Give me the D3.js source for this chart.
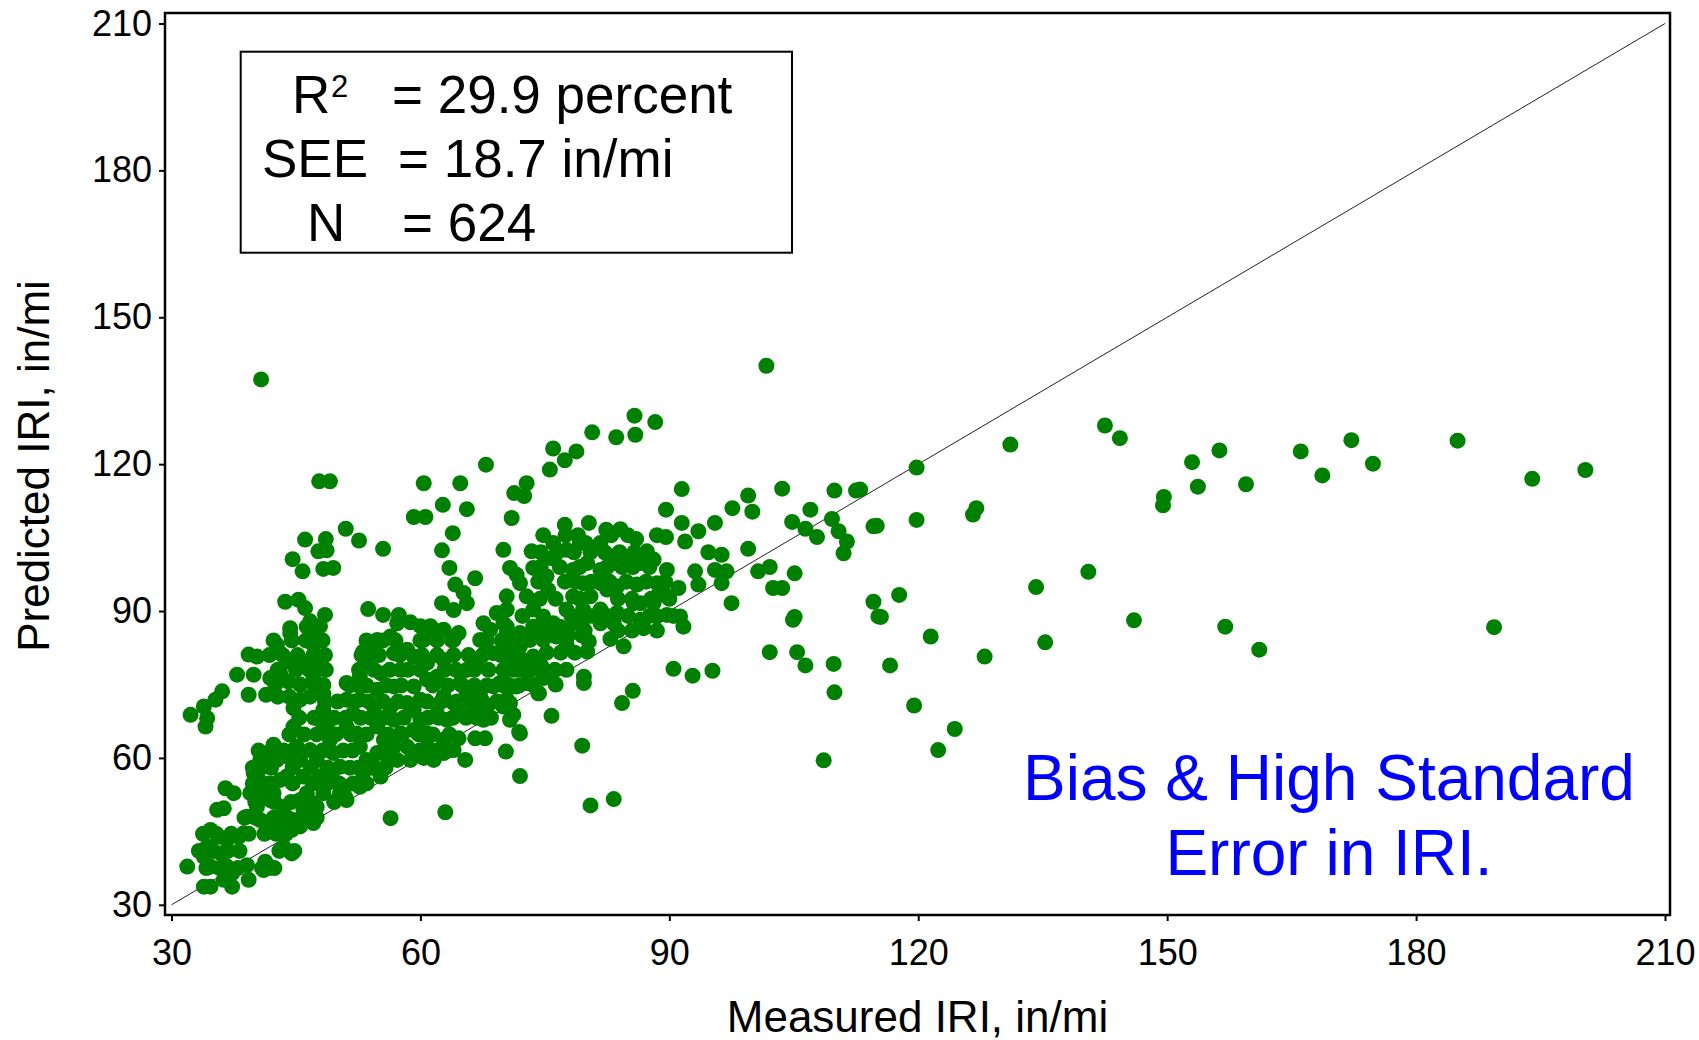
<!DOCTYPE html>
<html>
<head>
<meta charset="utf-8">
<script src="https://cdn.jsdelivr.net/npm/d3@7"></script>
<style>
  body { margin: 0; background: #fff; }
  text { font-family: "Liberation Sans", Arial, sans-serif; }
</style>
</head>
<body>
<svg id="chart" width="1699" height="1040"></svg>
<script>
const axisTicks = [30, 60, 90, 120, 150, 180, 210];
const xTitle = "Measured IRI, in/mi";
const yTitle = "Predicted IRI, in/mi";
const statNames = ["R", "SEE", "N"];
const statValues = ["= 29.9 percent", "= 18.7 in/mi", "= 624"];
const noteLines = ["Bias & High Standard", "Error in IRI."];

// [measured, predicted]
const outlierPoints = [
  [101.7,140.1],[40.8,137.3],[131.1,124],[142.5,127.9],[144.3,125.3],[153,120.4],[156.3,122.8],
  [153.7,115.4],[159.5,115.9],[166.1,122.6],[168.7,117.7],[172.2,124.9],[174.8,120.1],[185,124.8],
  [194,117],[200.4,118.8],[149.6,113.3],[149.5,111.6],[189.4,86.7],[161.1,82.1],[157,86.8],
  [146,88.1],[140.5,98],[134.2,94.9],[135.3,83.6],[128,80.7],[127,111],[126.6,109.7],[119.8,119.3],
  [119.8,108.6],[121.5,84.8],[119.5,70.7],[122.4,61.6],[124.4,65.9],[117.7,93.3],[115.5,88.8],
  [114.6,91.9],[116.6,78.9],[115,107.4],[113,114.8]
];

const midPoints = [
  [102.1,81.6],[105.4,81.6],[106.4,78.9],[109.8,79.2],[109.9,73.4],[108.6,59.5],[90.5,78.2],
  [92.8,76.8],[95.2,77.8],[84.3,71.2],[85.6,73.7],[79.5,62.5],[80.5,50.3],[83.3,51.6],[75.8,68.6],
  [71.9,65.3],[70.3,61.3],[72,56.3],[79.7,76.6],[79.7,75.3],[80.3,83.8],[80.1,81.7],[82.9,84.3],
  [84.5,82.8],[86.9,86.5],[91.7,86.8],[104.9,88.2],[74.6,78.7],[75,76.6],[74.3,73.2],[71.2,68.8],
  [70.4,86.8],[72,85.5],[73.6,86.8],[75.2,86.2],[76.8,86.8],[78.4,87.5],[81.7,87.5],[70.4,82.8],
  [72,82.8],[73.2,84.1],[74.8,84.1],[76.4,84.8],[77.6,83.1],[70.8,80],[72.4,79.3],[73.6,80.7],
  [69.6,75.3],[71.2,74.6],[72.8,75.3],[74.4,78],[74.8,76.3],[74.2,73.2],[70.4,71.9],[70,70.5],
  [71.2,85],[74,85],[77.8,85],[79.5,85],[71.5,81.5],[75.2,81.5],[76.9,81.5],[78.6,81.5],
  [70.2,78],[72.8,78],[76.2,78],[77.6,78],[70.5,75],[73.5,75],[76.3,75]
];

const upperPoints = [
  [85.8,129.9],[88.3,128.6],[85.9,126],[83.6,125.5],[80.7,126.5],[76,123.2],[78.8,122.6],
  [77.4,120.8],[75.6,118.9],[72.8,116.1],[71.3,114.1],[72.5,113.5],[71,109],[70,102.5],[73.4,102.2],
  [70.8,98.8],[71.6,97.4],[73.6,98.8],[77.4,107.6],[80.3,108],[82.4,106.6],[84.1,106.7],[86,104.7],
  [76,103.9],[75.8,100.8],[79.9,103.9],[81.7,103.9],[87.3,102.2],[88.1,100.5],[89.7,98.4],
  [91.5,114.9],[89.6,110.7],[91.5,108],[93.5,106.3],[91.9,104.2],[89.6,105.1],[95.5,108],[97.6,111],
  [99.5,113.6],[100,110.3],[103.6,115],[109.9,114.6],[112.5,114.6],[114.6,107.3],[107,110.7],
  [104.8,108.2],[106.4,106.8],[107.8,105.1],[109.6,108.8],[110.4,106.3],[111.4,104.2],[111,101.8],
  [99.5,102.7],[94.7,102],[96.3,101.5],[93.1,98.1],[93.5,95.4],[95.5,98.4],[96.9,98.1],[96.3,95.7],
  [91.1,94.7],[97.5,91.6],[100.7,98.1],[102.1,99],[105.1,97.7],[102.5,94.7],[103.6,94.7],[105.1,88.8],
  [115.2,88.9],[85.7,91.6],[88.1,91.6],[89.3,93.7],[86.1,95.4],[91.3,88.9],[89.7,89.2],
  [75.2,97.1],[75.4,94.3],[77.6,102.5],[79.2,103.9],[82.9,101.2],[84.9,100.5],[86.5,99.8],
  [78.4,98.4],[80.1,99.8],[81.7,98.4],[83.3,99.8],[79.6,95.7],[81.7,95.7],[83.7,95],[78.4,93],
  [80.5,93],[82.5,94.4],[86.5,91.6],[88.5,93],[88.5,95.7],[77.6,90.3],[79.6,90.3],[81.7,90.3],
  [83.7,89.6],[73.6,90.3],[74.8,88.9],[76,87.5],[79.2,87.5],[83.3,87.5],[86.5,88.2],[88.5,88.9],
  [70.4,90.3],[70,87.5],[72,95.7],[70.4,93],[72.8,93],
  [74.8,105.5],[77.5,105.5],[79,105.5],[83,105.5],[85,105.5],[88.5,105.5],
  [74.5,102],[76.5,102],[78.5,102],[80.5,102],[82.2,102],[84,102],[85.8,102],
  [74.5,99],[76.8,99],[79.2,99],[82.5,99],[84.3,99],[85.6,99],[87.6,99],
  [74.2,96],[77.4,96],[78.7,96],[80.6,96],[82.8,96],[84.8,96],[87.2,96],[89.5,96],
  [74.4,92.5],[76.3,92.5],[79.2,92.5],[83.8,92.5],[85.5,92.5],[87.8,92.5],[90,92.5],
  [72.3,89],[78.2,89],[80.4,89],[82.5,89],[85,89],[87.6,89],[90.5,89],
  [74,86],[77.6,86],[79.8,86],[83.8,86],[85.5,86],[88.5,86]
];

const leftUpperPoints = [
  [47.8,116.5],[49.1,116.5],[60.4,116.1],[64.8,116.1],[67.9,119.9],[62.7,111.7],[65.6,110.8],
  [59.2,109.2],[60.6,109.2],[55.5,102.7],[51,106.8],[52.6,104.4],[63.9,105.9],[62.6,102.4],
  [63.5,98.8],[46.1,104.6],[48.6,104.7],[47.7,102.2],[48.7,102.4],[44.6,100.6],[45.8,98.1],
  [48.3,98.6],[49.5,98.8],[64.2,95.4],[66.6,96.7],[65.2,93.7],[62.6,91.6],[64,90.2],[65.6,91.6],
  [43.7,91.9],[45.3,92.3],[46.1,90.6],[48.5,89.2],[53.7,90.4],[55.5,89.2],[57.4,89.2],[58.8,87.7],
  [57.2,87.5],[61.2,86.9],[69.2,89.6],[67.6,87.5],[46.7,87.9],[47.9,86.9],[44.3,86.5]
];

const lowerPoints = [
  [39.3,81.1],[40.3,80.7],[37.9,77],[39.9,77],[39.3,72.9],[41.4,72.9],[41.9,76.3],[43.1,77.3],
  [42.9,81.7],[42.7,83.1],[44.3,85.5],[43.9,79.7],[44.7,79.4],[44.1,75.6],[46.3,79.7],[47.9,79.4],
  [47.1,76.6],[48.3,74.9],[46.7,72.5],[47.9,73.2],[47.1,83.1],[47.5,85.5],[46.3,86.8],[36.1,73.6],
  [35.3,71.9],[33.9,70.5],[32.3,68.8],[34.1,66.4],[34.3,68.1],
  [45.5,71.9],[44.7,70.2],[44.7,66.4],[42.3,62.7],[42.5,60.6],[41.1,58.2],[40.5,55.5],[40.3,52.8],
  [40.3,50],[40.7,47.3],[41.5,46],[39.1,48],[36.5,53.8],[37.5,52.8],[35.5,49.4],[36.3,49.7],
  [34.7,45.3],[34.3,41.9],[33.9,39.8],[34.7,37.8],[35.7,43.9],[36.7,43.2],[38.1,43.9],[38.7,44.6],
  [35.9,40.5],[36.7,37.8],[37.3,36.4],[36.3,35.1],[34.7,33.7],[33.9,33.7],[37.3,33.7],[31.9,37.8],
  [39.1,38.1],[39.3,35.1],[41.3,38.8],[41.7,37.5],[41.1,37.1],[43.5,41.9],[44.5,40.5],[41.9,46.7],
  [43.1,47.3],[41.9,51.4],[43.5,50],[44.7,47.3],[44.5,45.3],[45.5,46],[45.9,49.4],[47.1,46.7],
  [41.5,58.9],[42.7,59.6],[43.9,60.3],[41.5,54.1],[42.3,52.8],[43.1,55.5],[43.9,56.2],[45.1,62.3],
  [45.5,59.6],[45.9,56.2],[46.3,52.8],[45.5,51.4],[46.7,61.6],[47.5,59.6],[47.9,56.2],[48.3,52.8],
  [47.5,50],[48.7,66.4],[49.1,63.7],[49.5,61],[50.3,58.2],[49.5,55.5],[50.3,52.8],[51.1,51.4],
  [50.9,54.1],[48.3,73.2],[48.3,69.8],[47.9,67.8],[51.1,75.3],[51.1,71.9],[51.9,69.1],[51.1,66.4],
  [52.3,65],[52.7,62.3],[53.5,59.6],[53.1,56.9],[52.7,54.1],[53.5,54.8],[54.4,58.2],[55.2,56.2],
  [54.8,61],[55.6,63.7],[54.8,66.4],[52.7,76.6],[53.5,79.4],[54.4,81.4],[55.2,77.3],[54.8,73.9],
  [54.4,70.5],[52.7,71.9],[52.7,74.6],[50.9,52.1],
  [53.1,81.7],[54.8,84.1],[56.4,84.8],[56.8,81.4],[57.6,78],[56.8,74.6],[56.4,70.5],[56.8,67.8],
  [57.6,65],[56.8,62.3],[56,60.3],[57.2,59.6],[58.8,59.6],[58.4,62.3],[59.2,65.7],[60,67.8],
  [60.8,65],[60.8,62.3],[61.6,59.6],[60.4,60],
  [58.4,71.2],[59.2,69.8],[60,71.9],[59.2,74.6],[60.8,76],[60.8,79.4],[59.2,80.7],[58.4,82.1],
  [60.4,84.1],[60,86.9],[61.6,86.2],[62.8,86.2],[64,84.1],[64.6,85.5],
  [62.8,80],[62,76.6],[62.8,72.5],[62,69.1],[63.2,67.8],[62.8,63.7],[62.8,61],
  [64,61.6],[64.6,64],[65.4,59.6],[66.6,64],[67.8,64],
  [64,71.2],[64.8,75.3],[65.6,78],[66.8,80],[67.2,84.1],[68.4,86.2],[70.4,85.5],[71.2,82.1],
  [68.8,81.4],[68.8,74.6],[68,70.5],[67.6,67.8],[66.4,69.1],[64.8,69.1],[65.6,73.2],[67.2,72.5],
  [70.8,71.2],[71.6,74.6],[71.2,78],[70.8,67.8],[72,65],
  [56.4,47.7],[63,48.9],[39.5,52.8],[39.9,56.9],[40.7,59.6]
];

const denseBandPoints = [
  [53.5,84],[55.5,84],[57,84],[60,84],[62,84],[63.8,84],[68,84],[69.8,84],[71.5,84],
  [52.9,81],[55,81],[57.5,81],[60.2,81],[62,81],[64,81],[65.8,81],[67.5,81],[69.7,81],[71.8,81],
  [52.6,78],[54.4,78],[56.3,78],[58.5,78],[60,78],[62.9,78],[64.3,78],[66.5,78],[68.2,78],[70,78],[71.8,78],[73.3,78],
  [51.5,74.8],[53.5,74.8],[55.9,74.8],[57.7,74.8],[61.5,74.8],[63.3,74.8],[65,74.8],[66.5,74.8],[68,74.8],[70,74.8],[71.9,74.8],
  [48.5,71.5],[50,71.5],[52,71.5],[53.8,71.5],[55.5,71.5],[57.3,71.5],[60.8,71.5],[62.5,71.5],[64.4,71.5],[66,71.5],[67.5,71.5],[69.2,71.5],[70.5,71.5],
  [45.4,68.2],[47.2,68.2],[49.6,68.2],[51,68.2],[52.8,68.2],[54,68.2],[55.6,68.2],[58,68.2],[60.9,68.2],[62.2,68.2],[63.9,68.2],[65.5,68.2],[66.8,68.2],[68.5,68.2],
  [44.2,64.8],[46,64.8],[47.5,64.8],[49.8,64.8],[51.6,64.8],[53.5,64.8],[56.1,64.8],[57.8,64.8],[59.8,64.8],[61.5,64.8],[63.5,64.8],
  [40.5,61.5],[42,61.5],[43.5,61.5],[44.6,61.5],[48.2,61.5],[50.7,61.5],[51.8,61.5],[55.9,61.5],[59.9,61.5],[62,61.5],[63.3,61.5],
  [39.8,58],[42,58],[44.6,58],[46.8,58],[48.8,58],[51.5,58],[52.5,58],[54.2,58],[55.8,58],
  [39.8,54.8],[41.8,54.8],[44.6,54.8],[47,54.8],[48.8,54.8],[50.2,54.8],[51.9,54.8],
  [40.1,51],[42.4,51],[44.4,51],[46.8,51],[49.6,51],
  [38.8,47.8],[40.1,47.8],[42.3,47.8],[44,47.8],[46.2,47.8],[47.5,47.8],
  [33.8,44.5],[35.4,44.5],[37.2,44.5],[39.3,44.5],[41.2,44.5],[42.6,44.5],[43.8,44.5],
  [33.3,41],[35,41],[36.8,41],[38.2,41],[43,41],[44.8,41],
  [34.2,37.5],[35.8,37.5],[38,37.5],[40.9,37.5],[42.4,37.5],
  [42.3,84],[44.5,84],[46.2,84],[48.2,84],[41.8,81],[43.4,81],[45.2,81],[47.1,81],[48.5,81],
  [42.8,78],[45,78],[46.6,78],[48.6,78],[42.5,75],[45.5,75],[47.2,75],[42.8,72.5],[44.2,72.5]
];

const points = outlierPoints.concat(midPoints, upperPoints, leftUpperPoints, lowerPoints, denseBandPoints);

const frame = { left: 165, right: 1670, top: 13, bottom: 915 };

const svg = d3.select("#chart");

const x = d3.scaleLinear().domain([30, 210]).range([171.5, 1665]);
const y = d3.scaleLinear().domain([30, 210]).range([904.8, 23.5]);

// line of equality
svg.append("line")
  .attr("x1", x(30)).attr("y1", y(30))
  .attr("x2", x(210)).attr("y2", y(210))
  .attr("stroke", "#222")
  .attr("stroke-width", 1);

svg.append("g")
  .attr("class", "points")
  .selectAll("circle")
  .data(points)
  .join("circle")
  .attr("cx", d => x(d[0]))
  .attr("cy", d => y(d[1]))
  .attr("r", 8)
  .attr("fill", "#008000");

// plot frame
svg.append("rect")
  .attr("x", frame.left).attr("y", frame.top)
  .attr("width", frame.right - frame.left)
  .attr("height", frame.bottom - frame.top)
  .attr("fill", "none")
  .attr("stroke", "#000")
  .attr("stroke-width", 2.5);

var xAxis = svg.append("g")
  .attr("transform", "translate(0," + frame.bottom + ")")
  .call(d3.axisBottom(x).tickValues(axisTicks).tickSize(6).tickPadding(18));
var yAxis = svg.append("g")
  .attr("transform", "translate(" + frame.left + ",0)")
  .call(d3.axisLeft(y).tickValues(axisTicks).tickSize(6).tickPadding(7));

[xAxis, yAxis].forEach(function(g) {
  g.select(".domain").remove();
  g.selectAll(".tick line").attr("stroke", "#000").attr("stroke-width", 2);
  g.selectAll(".tick text")
    .attr("fill", "#000")
    .style("font-size", "36px")
    .style("font-family", "'Liberation Sans', Arial, sans-serif");
});

// axis titles
svg.append("text")
  .attr("x", (frame.left + frame.right) / 2)
  .attr("y", 1032)
  .attr("text-anchor", "middle")
  .style("font-size", "44px")
  .text(xTitle);

svg.append("text")
  .attr("transform", "translate(49," + ((frame.top + frame.bottom) / 2 + 2) + ") rotate(-90)")
  .attr("text-anchor", "middle")
  .style("font-size", "44px")
  .text(yTitle);

// stats box
svg.append("rect")
  .attr("x", 240.7).attr("y", 51.7)
  .attr("width", 551.3).attr("height", 201)
  .attr("fill", "#fff")
  .attr("stroke", "#000")
  .attr("stroke-width", 2);

var nameX = [292, 262, 307], valueX = [392, 398, 402], rowY = [113, 177, 241];
var stats = svg.append("g").style("font-size", "53px");
statNames.forEach(function(name, i) {
  stats.append("text").attr("x", nameX[i]).attr("y", rowY[i]).text(name);
  stats.append("text").attr("x", valueX[i]).attr("y", rowY[i]).text(statValues[i]);
});
stats.append("text")
  .attr("x", 331).attr("y", 97)
  .style("font-size", "31px")
  .text("2");

// note
svg.append("g")
  .selectAll("text")
  .data(noteLines)
  .join("text")
  .attr("x", 1329)
  .attr("y", (d, i) => 800 + i * 75)
  .attr("text-anchor", "middle")
  .attr("fill", "#0000ff")
  .style("font-size", "64px")
  .text(d => d);
</script>
</body>
</html>
